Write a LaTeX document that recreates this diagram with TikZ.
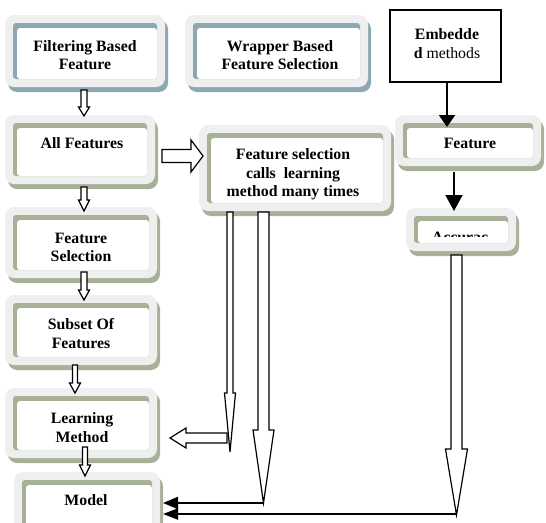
\documentclass[tikz,border=0pt]{standalone}
\usepackage{fontspec}
\setmainfont{Liberation Serif}
\usetikzlibrary{arrows.meta}
\definecolor{framegray}{HTML}{EFEFEF}
\definecolor{bluesh}{HTML}{8DA8B3}
\definecolor{olivesh}{HTML}{A6B197}
% fancy rounded box: x1,y1,x2,y2,colour
\newcommand{\fancybox}[5]{%
  \fill[#5,rounded corners=9pt] (#1+3,#2+5) rectangle (#3+3,#4+5);
  \fill[framegray,rounded corners=9pt] (#1,#2) rectangle (#3,#4);
  \fill[#5,rounded corners=3pt] (#1+8,#2+8) rectangle (#3-8,#4-8);
  \fill[white,rounded corners=3pt] (#1+12,#2+13) rectangle (#3-8,#4-8);
}
% hollow down arrow: x, ytop, yheadstart, ytip, shaft half width, head half width
\newcommand{\hdown}[6]{%
  \draw[hollow] (#1-#5,#2) -- (#1+#5,#2) -- (#1+#5,#3) -- (#1+#6,#3) -- (#1,#4)
    -- (#1-#6,#3) -- (#1-#5,#3) -- cycle;
}
\begin{document}
\begin{tikzpicture}[x=1pt,y=-1pt,
  lbl/.style={font=\fontsize{15.8}{18.5}\selectfont\bfseries, align=center, inner sep=0pt},
  hollow/.style={draw=black, fill=white, line width=1.2pt, line join=miter},
  blk/.style={draw=black, line width=2pt}]
\useasboundingbox (0,0) rectangle (546,522);
\clip (0,0) rectangle (546,522);
\fill[white] (0,0) rectangle (546,522);

% boxes
\fancybox{5}{15}{165}{87}{bluesh}
\fancybox{185}{15}{368}{87}{bluesh}
\fancybox{5}{115}{155}{184}{olivesh}
\fancybox{199}{125}{391}{211}{olivesh}
\fancybox{395}{115}{541}{166}{olivesh}
\fancybox{406}{208}{516}{251}{olivesh}
\fancybox{5}{207}{157}{278}{olivesh}
\fancybox{5}{295}{157}{365}{olivesh}
\fancybox{5}{388}{157}{458}{olivesh}
\fancybox{14}{472}{160}{540}{olivesh}

\node[draw=black, line width=1.5pt, minimum width=111pt, minimum height=72pt, inner sep=0pt] (emb) at (445.5,46) {};

% texts
\node[lbl] (embt) at (447,43.5) {Embedde\\d {\mdseries methods}};
\node[lbl] (t1) at (85,55) {Filtering Based\\Feature};
\node[lbl] (t2) at (280,55) {Wrapper Based\\Feature Selection};
\node[lbl] (t3) at (82,143) {All Features};
\node[lbl] (t4) at (293,174.5) {Feature selection\\calls\ \ learning\\method many times};
\node[lbl] (t5) at (470,143) {Feature};
\node[lbl] (t6) at (81,247.5) {Feature\\Selection};
\node[lbl] (t7) at (81,333.5) {Subset Of\\Features};
\node[lbl] (t8) at (82,427.5) {Learning\\Method};
\node[lbl] (t9) at (86,500) {Model};
\begin{scope}
  \clip (415,215) rectangle (515,236);
  \node[lbl, anchor=base] (acc) at (460,242) {Accurac};
\end{scope}

% hollow arrows, left column
\hdown{84}{90}{107}{116}{3}{5.5}
\hdown{84}{187}{200}{211}{3}{5.5}
\hdown{84}{272}{290}{300}{3}{5.5}
\hdown{75}{365}{383}{393}{2.5}{5.5}
\hdown{85}{447}{465}{476}{2.5}{5.5}

% All Features -> Feature selection
\draw[hollow] (162,149.5) -- (191,149.5) -- (191,140) -- (203,156) -- (191,172)
  -- (191,162.5) -- (162,162.5) -- cycle;

% back to Learning Method
\draw[hollow] (227,433) -- (186,433) -- (186,428) -- (170,438) -- (186,448)
  -- (186,443) -- (227,443) -- cycle;

% long hollow arrows
\hdown{230}{212}{393}{452}{3}{5.5}
\hdown{263.5}{212}{430}{503}{5.5}{10.5}
\hdown{456.5}{255}{449}{515}{5.5}{11}

% black arrows
\coordinate (featTop) at (447,127);
\draw[blk, -{Triangle[length=12pt,width=16pt]}] (emb.south -| featTop) -- (featTop);
\coordinate (featBot) at (454,172);
\coordinate (accTop) at (454,211);
\draw[blk, -{Triangle[length=16pt,width=17pt]}] (featBot) -- (accTop);

\coordinate (m1) at (263.5,503);
\coordinate (m2) at (456.5,514);
\coordinate (modelR) at (163,508);
\draw[blk, line width=2.2pt, -{Triangle[length=15pt,width=12pt]}] (m1) -- (m1 -| modelR);
\draw[blk, line width=2.2pt, -{Triangle[length=15pt,width=11pt]}] (m2) -- (m2 -| modelR);
\end{tikzpicture}
\end{document}
